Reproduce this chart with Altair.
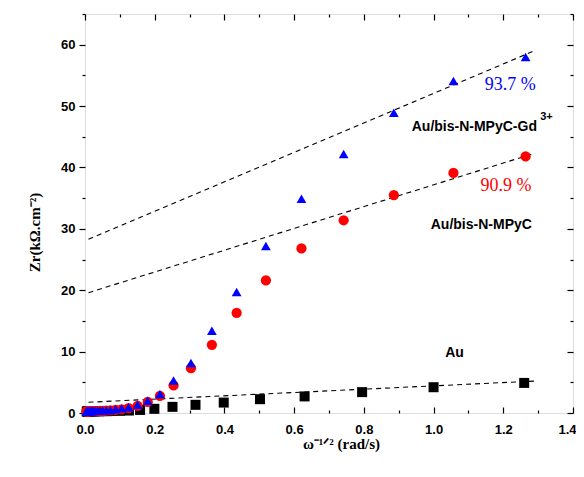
import altair as alt
import pandas as pd

# ---------------- data ----------------
au_x = [1.26, 1.0, 0.795, 0.63, 0.502, 0.398, 0.317, 0.251, 0.199, 0.158, 0.126, 0.1,
        0.079, 0.063, 0.05, 0.04, 0.032, 0.025, 0.02, 0.016, 0.0126, 0.01, 0.008, 0.0063, 0.005]
au_y = [4.9, 4.2, 3.4, 2.7, 2.25, 1.7, 1.33, 1.0, 0.68, 0.5, 0.4, 0.35,
        0.32, 0.3, 0.3, 0.28, 0.28, 0.27, 0.27, 0.26, 0.26, 0.25, 0.25, 0.25, 0.25]

film_x = [1.264, 1.057, 0.886, 0.742, 0.621, 0.519, 0.435, 0.364, 0.304, 0.254, 0.215,
          0.180, 0.151, 0.125, 0.105, 0.088, 0.073, 0.061, 0.051, 0.043, 0.036, 0.030,
          0.025, 0.021, 0.018, 0.015, 0.012, 0.010, 0.0085, 0.007, 0.006, 0.005, 0.004]
mpyc_y = [41.8, 39.1, 35.5, 31.4, 26.8, 21.6, 16.3, 11.1, 7.3, 4.5, 2.8,
          1.8, 1.15, 0.8, 0.6, 0.5, 0.42, 0.38, 0.35, 0.33, 0.32, 0.31,
          0.3, 0.3, 0.3, 0.29, 0.29, 0.28, 0.28, 0.28, 0.28, 0.28, 0.28]
gd_y = [58.0, 54.1, 48.9, 42.2, 34.9, 27.2, 19.7, 13.4, 8.15, 5.3, 3.1,
        2.0, 1.33, 0.94, 0.75, 0.6, 0.5, 0.45, 0.4, 0.38, 0.36, 0.35,
        0.34, 0.33, 0.33, 0.32, 0.32, 0.31, 0.31, 0.3, 0.3, 0.3, 0.3]

fit_x = [0.01, 1.289]
au_fit = [1.75, 5.2]
mpyc_fit = [19.6, 42.3]
gd_fit = [28.3, 59.0]

pct_text = ["93.7 %", "90.9 %"]
pct_x = [1.22, 1.208]
pct_y = [52.7, 36.1]
pct_color = ["#0000FF", "#FF0000"]

lab_text = ["Au/bis-N-MPyC-Gd", "Au/bis-N-MPyC", "Au"]
lab_x = [1.117, 1.137, 1.06]
lab_y = [45.9, 29.9, 9.1]

sup_text = ["3+"]
sup_x = [1.306]
sup_y = [47.7]

x_major = [0.0, 0.2, 0.4, 0.6, 0.8, 1.0, 1.2, 1.4]
x_minor = [0.1, 0.3, 0.5, 0.7, 0.9, 1.1, 1.3]
y_major = [0, 10, 20, 30, 40, 50, 60]
y_minor = [5, 15, 25, 35, 45, 55, 65]

# ---------------- tables ----------------
au_df = pd.DataFrame({"x": au_x, "y": au_y})
mpyc_df = pd.DataFrame({"x": film_x, "y": mpyc_y})
gd_df = pd.DataFrame({"x": film_x, "y": gd_y})
fit_df = pd.concat([
    pd.DataFrame({"x": fit_x, "y": au_fit, "s": "Au"}),
    pd.DataFrame({"x": fit_x, "y": mpyc_fit, "s": "MPyC"}),
    pd.DataFrame({"x": fit_x, "y": gd_fit, "s": "Gd"}),
])
pct_df = pd.DataFrame({"x": pct_x, "y": pct_y, "t": pct_text, "c": pct_color})
lab_df = pd.DataFrame({"x": lab_x, "y": lab_y, "t": lab_text})
sup_df = pd.DataFrame({"x": sup_x, "y": sup_y, "t": sup_text})

xs = alt.Scale(domain=[0, 1.4], nice=False, zero=False)
ys = alt.Scale(domain=[0, 65], nice=False, zero=False)

SANS = "Liberation Sans"
SERIF = "Liberation Serif"

def ax(**kw):
    base = dict(grid=False, domain=False, tickColor="black", tickWidth=1.2,
                labels=False, title=None, ticks=True, labelFlush=False)
    base.update(kw)
    return alt.Axis(**base)

last_label = "datum.value > 1.35"

x_main = ax(orient="bottom", values=x_major, labels=True, ticks=False,
            format=".1f", labelFont=SANS, labelFontWeight="bold", labelFontSize=13,
            labelColor="black", labelPadding=10,
            labelAlign={"condition": {"test": last_label, "value": "right"}, "value": "center"},
            labelOffset={"condition": {"test": last_label, "value": 3}, "value": 0},
            title="ω⁻¹ᐟ² (rad/s)", titleFont=SERIF, titleFontWeight="bold",
            titleFontSize=15, titleColor="black", titleBaseline="middle",
            titleX=256, titleY=30)
y_main = ax(orient="left", values=y_major, labels=True, tickSize=6,
            labelFont=SANS, labelFontWeight="bold", labelFontSize=13, labelColor="black",
            labelPadding=4, labelBaseline="middle",
            title="Zr(kΩ.cm⁻²)", titleFont=SERIF, titleFontWeight="bold",
            titleFontSize=15, titleColor="black", titleBaseline="middle",
            titleX=-51, titleY=218)

x_bmaj = ax(orient="bottom", values=x_major, tickSize=alt.ExprRef("-6"))
x_bmin = ax(orient="bottom", values=x_minor, tickSize=alt.ExprRef("-3"))
x_tmaj = ax(orient="top", values=x_major, tickSize=alt.ExprRef("-6"))
x_tmin = ax(orient="top", values=x_minor, tickSize=alt.ExprRef("-3"))
y_lmin = ax(orient="left", values=y_minor, tickSize=3)
y_rmaj = ax(orient="right", values=y_major, tickSize=alt.ExprRef("-6"))
y_rmin = ax(orient="right", values=y_minor, tickSize=alt.ExprRef("-3"))

fits = alt.Chart(fit_df).mark_line(color="black", strokeWidth=1.1, strokeDash=[5, 4]).encode(
    x=alt.X("x:Q", scale=xs, axis=x_main),
    y=alt.Y("y:Q", scale=ys, axis=y_main),
    detail="s:N",
)

def ghost(xa, ya):
    return alt.Chart(au_df).mark_point(opacity=0).encode(
        x=alt.X("x:Q", scale=xs, axis=xa),
        y=alt.Y("y:Q", scale=ys, axis=ya),
    )

g1 = ghost(x_bmaj, y_lmin)
g2 = ghost(x_bmin, y_rmaj)
g3 = ghost(x_tmaj, y_rmin)
g4 = ghost(x_tmin, None)

au_pts = alt.Chart(au_df).mark_point(shape="square", filled=True, color="black",
                                      size=100, opacity=1).encode(
    x=alt.X("x:Q", scale=xs, axis=None), y=alt.Y("y:Q", scale=ys, axis=None))
mpyc_pts = alt.Chart(mpyc_df).mark_point(shape="circle", filled=True, color="#FF0000",
                                          size=105, opacity=1).encode(
    x=alt.X("x:Q", scale=xs, axis=None), y=alt.Y("y:Q", scale=ys, axis=None))
gd_pts = alt.Chart(gd_df).mark_point(shape="triangle-up", filled=True, color="#0000FF",
                                      size=95, opacity=1).encode(
    x=alt.X("x:Q", scale=xs, axis=None), y=alt.Y("y:Q", scale=ys, axis=None))

pct = alt.Chart(pct_df).mark_text(font=SERIF, fontSize=18, align="center",
                                  baseline="alphabetic").encode(
    x=alt.X("x:Q", scale=xs, axis=None), y=alt.Y("y:Q", scale=ys, axis=None),
    text="t:N", color=alt.Color("c:N", scale=None))
labs = alt.Chart(lab_df).mark_text(font=SANS, fontWeight="bold", fontSize=14,
                                   align="center", baseline="alphabetic", color="black").encode(
    x=alt.X("x:Q", scale=xs, axis=None), y=alt.Y("y:Q", scale=ys, axis=None), text="t:N")
sup = alt.Chart(sup_df).mark_text(font=SANS, fontWeight="bold", fontSize=11,
                                  align="left", baseline="alphabetic", color="black").encode(
    x=alt.X("x:Q", scale=xs, axis=None), y=alt.Y("y:Q", scale=ys, axis=None), text="t:N")

chart = alt.layer(fits, g1, g2, g3, g4, au_pts, mpyc_pts, gd_pts, pct, labs, sup).resolve_axis(
    x="independent", y="independent"
).properties(
    width=488, height=399,
    autosize=alt.AutoSizeParams(type="none"),
    padding={"left": 77, "top": 6, "right": 3, "bottom": 50},
).configure_view(stroke="black", strokeWidth=1.6).configure(background="white")

chart.save("out.html", embed_options={"renderer": "svg", "actions": False})
